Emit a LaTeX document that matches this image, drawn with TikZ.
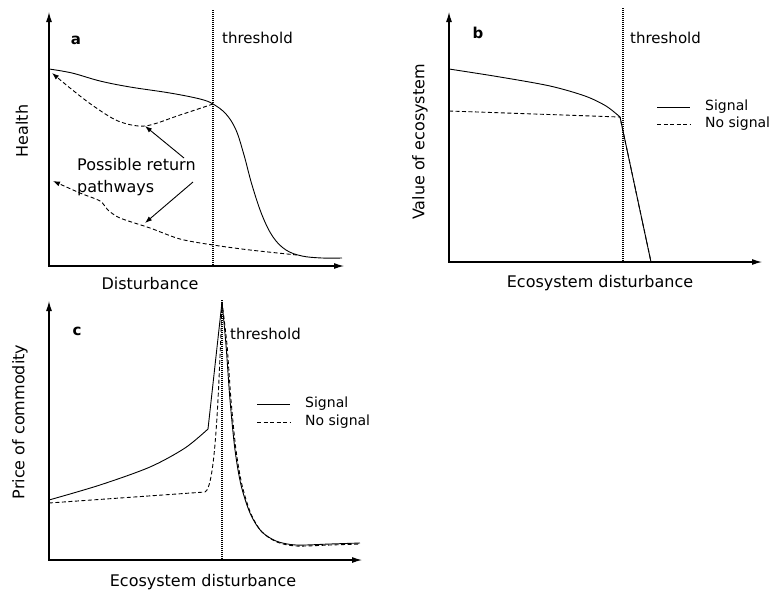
\documentclass[tikz,border=0pt]{standalone}
\usepackage{fontspec}
\setmainfont{DejaVu Sans}
\usetikzlibrary{arrows.meta}
\begin{document}
\begin{tikzpicture}[x=1pt,y=-1pt,
  axes/.style={line width=1.1pt,{Latex[length=10pt,width=6pt]}-{Latex[length=10pt,width=6pt]}},
  curve/.style={line width=0.9pt},
  dcurve/.style={line width=0.9pt,dash pattern=on 4pt off 2.5pt},
  thr/.style={line width=1.4pt,dash pattern=on 1pt off 1pt},
  tip/.style={-{Latex[length=7pt,width=5pt]}},
  lbl/.style={font=\fontsize{16}{19}\selectfont,inner sep=0pt},
  thrlbl/.style={font=\fontsize{15}{18}\selectfont,inner sep=0pt,anchor=west},
  leg/.style={font=\fontsize{14}{17}\selectfont,inner sep=0pt,anchor=west},
  panel/.style={font=\fontsize{15}{18}\selectfont\bfseries,inner sep=0pt}]
\useasboundingbox (0,0) rectangle (773,592);

% ---------- panel a ----------
\coordinate (aY) at (49,12);
\coordinate (aO) at (49,266);
\coordinate (aX) at (344,266);
\draw[axes] (aY) -- (aO) -- (aX);
\coordinate (aT1) at (213,10);
\coordinate (aT2) at (213,268);
\draw[thr] (aT1) -- (aT2);
\node[panel] (alab) at (76,40) {a};
\node[thrlbl] (athr) at (222,38) {threshold};
\node[lbl,rotate=90] (aylab) at (22,131) {Health};
\node[lbl] (axlab) at (150,284) {Disturbance};
\draw[curve] plot[smooth,tension=0.6] coordinates {(49,69) (72,73) (100,81) (130,87) (170,93) (200,99) (213,104) (226,114) (236,130) (244,155) (252,185) (262,215) (273,237) (286,250) (302,256) (322,258) (342,258)};
\draw[dcurve,tip] plot[smooth] coordinates {(213,104) (180,115) (145,126) (118,121) (92,105) (70,88) (52,73)};
\draw[dcurve,tip] plot[smooth,tension=0.5] coordinates {(297,255) (250,250) (213,245) (180,239) (150,228) (120,218) (108,210) (100,201) (80,193) (53,181)};
\node[lbl,anchor=west] (pr1) at (77,165) {Possible return};
\node[lbl,anchor=west] (pr2) at (77,188) {pathways};
\coordinate (pa1s) at (184,158);
\coordinate (pa1e) at (145,126);
\coordinate (pa2s) at (193,182);
\coordinate (pa2e) at (145,223);
\draw[curve,tip] (pa1s) -- (pa1e);
\draw[curve,tip] (pa2s) -- (pa2e);

% ---------- panel b ----------
\coordinate (bY) at (449,12);
\coordinate (bO) at (449,262);
\coordinate (bX) at (762,262);
\draw[axes] (bY) -- (bO) -- (bX);
\coordinate (bT1) at (623,8);
\coordinate (bT2) at (623,264);
\draw[thr] (bT1) -- (bT2);
\node[panel] (blab) at (478,33) {b};
\node[thrlbl] (bthr) at (630,38) {threshold};
\node[lbl,rotate=90] (bylab) at (420,142) {Value of ecosystem};
\node[lbl] (bxlab) at (600,283) {Ecosystem disturbance};
\coordinate (bK) at (620,117);
\coordinate (bE) at (651,262);
\draw[curve] plot[smooth] coordinates {(449,69) (500,77) (550,86) (585,96) (606,106) (620,117)};
\draw[curve] (bK) -- (bE);
\draw[dcurve] (449,111) -- (bK) -- (bE);
\node[leg] (bsig) at (705,107) {Signal};
\node[leg] (bnos) at (705,124) {No signal};
\draw[curve] ([xshift=-48pt]bsig.west) -- ([xshift=-15pt]bsig.west);
\draw[dcurve] ([xshift=-48pt]bnos.west) -- ([xshift=-15pt]bnos.west);

% ---------- panel c ----------
\coordinate (cY) at (49,301);
\coordinate (cO) at (49,560);
\coordinate (cX) at (362,560);
\draw[axes] (cY) -- (cO) -- (cX);
\coordinate (cT1) at (222,300);
\coordinate (cT2) at (222,562);
\draw[thr] (cT1) -- (cT2);
\node[panel] (clab) at (77,331) {c};
\node[thrlbl] (cthr) at (230,334) {threshold};
\node[lbl,rotate=90] (cylab) at (20,422) {Price of commodity};
\node[lbl] (cxlab) at (203,582) {Ecosystem disturbance};
\coordinate (cP) at (222,302);
\draw[curve] plot[smooth] coordinates {(49,500) (100,485) (150,467) (185,448) (208,429)} -- (cP);
\draw[curve] plot[smooth] coordinates {(222,302) (226,345) (230,400) (235,450) (241,485) (250,513) (261,531) (276,541) (296,545) (330,544) (360,543)};
\draw[dcurve] (49,503) -- (205,492) .. controls (214,488) and (218,420) .. (cP);
\draw[dcurve] plot[smooth] coordinates {(222,302) (227,345) (231,400) (236,450) (242,485) (251,514) (262,532) (277,542) (296,546) (330,545) (360,544)};
\node[leg] (csig) at (305,404) {Signal};
\node[leg] (cnos) at (305,422) {No signal};
\draw[curve] ([xshift=-48pt]csig.west) -- ([xshift=-15pt]csig.west);
\draw[dcurve] ([xshift=-48pt]cnos.west) -- ([xshift=-15pt]cnos.west);
\end{tikzpicture}
\end{document}
